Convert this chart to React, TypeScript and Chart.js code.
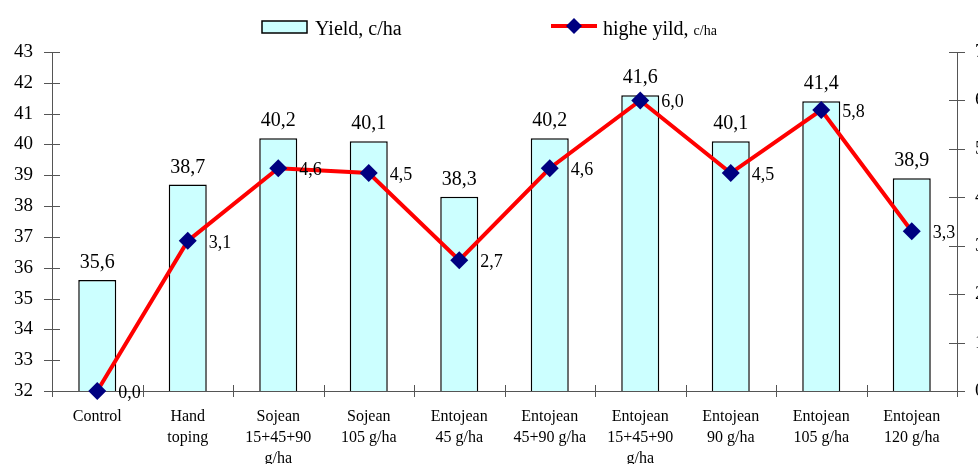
import React, { useEffect, useRef } from "react";
import { Chart, registerables } from "chart.js";

Chart.register(...registerables);

const categories: string[][] = [
  ["Control"],
  ["Hand", "toping"],
  ["Sojean", "15+45+90", "g/ha"],
  ["Sojean", "105 g/ha"],
  ["Entojean", "45 g/ha"],
  ["Entojean", "45+90 g/ha"],
  ["Entojean", "15+45+90", "g/ha"],
  ["Entojean", "90 g/ha"],
  ["Entojean", "105 g/ha"],
  ["Entojean", "120 g/ha"],
];
const yieldValues = [35.6, 38.7, 40.2, 40.1, 38.3, 40.2, 41.6, 40.1, 41.4, 38.9];
const higherYield = [0.0, 3.1, 4.6, 4.5, 2.7, 4.6, 6.0, 4.5, 5.8, 3.3];
const yieldLabel = "Yield, c/ha";
const higherLabel = "highe yild,";
const higherUnit = "c/ha";
const leftMin = 32;
const leftMax = 43;
const rightMin = 0;
const rightMax = 7;

const SERIF = "'Liberation Serif', 'Times New Roman', serif";
const BAR_FILL = "#CCFFFF";
const LINE_COLOR = "#FF0000";
const MARKER = "#000080";
const AXIS = "#555555";

const fmt = (v: number) => v.toFixed(1).replace(".", ",");

function diamond(ctx: CanvasRenderingContext2D, x: number, y: number, r: number) {
  ctx.beginPath();
  ctx.moveTo(x, y - r);
  ctx.lineTo(x + r, y);
  ctx.lineTo(x, y + r);
  ctx.lineTo(x - r, y);
  ctx.closePath();
  ctx.fill();
}

const overlayPlugin = {
  id: "overlay",
  afterDatasetsDraw(chart: any) {
    const ctx: CanvasRenderingContext2D = chart.ctx;
    const area = chart.chartArea;
    ctx.save();
    // tick marks crossing the axes
    ctx.strokeStyle = AXIS;
    ctx.lineWidth = 1;
    const yl = chart.scales.y;
    const yr = chart.scales.y1;
    yl.ticks.forEach((t: any) => {
      const py = Math.round(yl.getPixelForValue(t.value)) + 0.5;
      ctx.beginPath();
      ctx.moveTo(area.left - 8, py);
      ctx.lineTo(area.left + 8, py);
      ctx.stroke();
    });
    yr.ticks.forEach((t: any) => {
      const py = Math.round(yr.getPixelForValue(t.value)) + 0.5;
      ctx.beginPath();
      ctx.moveTo(area.right - 8, py);
      ctx.lineTo(area.right + 8, py);
      ctx.stroke();
    });
    const n = categories.length;
    for (let k = 0; k <= n; k++) {
      const px = Math.round(area.left + (k * (area.right - area.left)) / n) + 0.5;
      ctx.beginPath();
      ctx.moveTo(px, area.bottom - 6);
      ctx.lineTo(px, area.bottom + 6);
      ctx.stroke();
    }

    // data labels
    ctx.fillStyle = "#000";
    const barMeta = chart.getDatasetMeta(0);
    ctx.font = `20px ${SERIF}`;
    ctx.textAlign = "center";
    ctx.textBaseline = "alphabetic";
    barMeta.data.forEach((el: any, i: number) => {
      ctx.fillText(fmt(yieldValues[i]), el.x, el.y - 12);
    });
    const lineMeta = chart.getDatasetMeta(1);
    ctx.font = `18px ${SERIF}`;
    ctx.textAlign = "left";
    ctx.textBaseline = "middle";
    lineMeta.data.forEach((el: any, i: number) => {
      ctx.fillText(fmt(higherYield[i]), el.x + 21, el.y + 2);
    });

    // legend
    ctx.fillStyle = BAR_FILL;
    ctx.fillRect(262, 21, 45, 12);
    ctx.strokeStyle = "#000";
    ctx.lineWidth = 1.5;
    ctx.strokeRect(262, 21, 45, 12);
    ctx.fillStyle = "#000";
    ctx.font = `20px ${SERIF}`;
    ctx.textAlign = "left";
    ctx.textBaseline = "alphabetic";
    ctx.fillText(yieldLabel, 315, 35);

    ctx.strokeStyle = LINE_COLOR;
    ctx.lineWidth = 4;
    ctx.beginPath();
    ctx.moveTo(551, 26);
    ctx.lineTo(597, 26);
    ctx.stroke();
    ctx.fillStyle = MARKER;
    diamond(ctx, 574, 26, 8);
    ctx.fillStyle = "#000";
    ctx.font = `20px ${SERIF}`;
    ctx.fillText(higherLabel, 603, 35);
    const w = ctx.measureText(higherLabel + " ").width;
    ctx.font = `14px ${SERIF}`;
    ctx.fillText(higherUnit, 603 + w, 35);
    ctx.restore();
  },
};

export default function App() {
  const ref = useRef<HTMLCanvasElement | null>(null);
  useEffect(() => {
    if (!ref.current) return;
    const chart = new Chart(ref.current, {
      type: "bar",
      data: {
        labels: categories,
        datasets: [
          {
            type: "bar",
            label: yieldLabel,
            data: yieldValues,
            backgroundColor: BAR_FILL,
            borderColor: "#000",
            borderWidth: 1.5,
            barPercentage: 0.42,
            categoryPercentage: 1,
            yAxisID: "y",
            order: 2,
          },
          {
            type: "line",
            label: higherLabel,
            data: higherYield,
            borderColor: LINE_COLOR,
            borderWidth: 4,
            pointStyle: "rectRot",
            pointRadius: 9,
            pointBackgroundColor: MARKER,
            pointBorderColor: MARKER,
            pointBorderWidth: 0,
            tension: 0,
            yAxisID: "y1",
            order: 1,
            clip: false,
          } as any,
        ],
      },
      options: {
        animation: false,
        responsive: false,
        devicePixelRatio: 1,
        layout: { padding: { top: 52, left: 0, right: 0, bottom: 0 }, autoPadding: false },
        plugins: { legend: { display: false }, tooltip: { enabled: false } },
        scales: {
          x: {
            offset: true,
            grid: { display: false },
            border: { display: true, color: AXIS, width: 1 },
            ticks: {
              color: "#000",
              font: { family: SERIF, size: 16, lineHeight: "21px" as any },
              padding: 7,
              maxRotation: 0,
              autoSkip: false,
            },
            afterFit: (s: any) => {
              s.height = 73;
            },
          },
          y: {
            position: "left",
            min: leftMin,
            max: leftMax,
            grid: { display: false },
            border: { display: true, color: AXIS, width: 1 },
            ticks: {
              stepSize: 1,
              color: "#000",
              font: { family: SERIF, size: 19 },
              padding: 11,
            },
            afterFit: (s: any) => {
              s.width = 52;
            },
          },
          y1: {
            position: "right",
            min: rightMin,
            max: rightMax,
            grid: { display: false },
            border: { display: true, color: AXIS, width: 1 },
            ticks: {
              stepSize: 1,
              color: "#000",
              font: { family: SERIF, size: 19 },
              padding: 10,
            },
            afterFit: (s: any) => {
              s.width = 43;
            },
          },
        },
      },
      plugins: [overlayPlugin],
    });
    return () => chart.destroy();
  }, []);
  return (
    <div style={{ position: "fixed", left: 0, top: 0, width: 1000, height: 464, background: "#fff" }}>
      <canvas ref={ref} width={1000} height={464} style={{ display: "block" }} />
    </div>
  );
}
